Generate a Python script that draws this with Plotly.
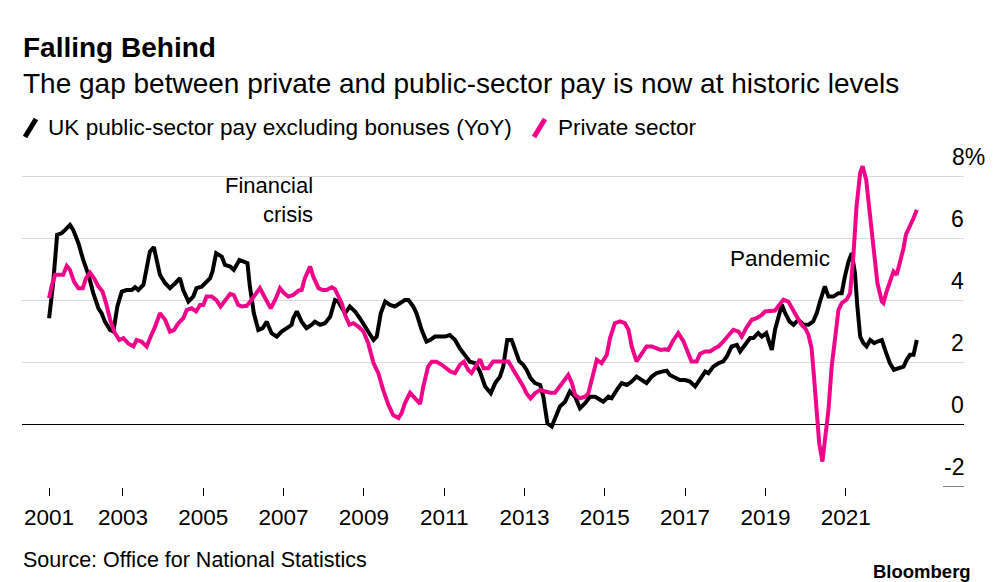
import plotly.graph_objects as go

# ---------------- data ----------------
public_year = [
    2001.16, 2001.26, 2001.36, 2001.47, 2001.56, 2001.68, 2001.76, 2001.89, 2002.01, 2002.14,
    2002.26, 2002.39, 2002.47, 2002.55, 2002.68, 2002.76, 2002.86, 2002.97, 2003.09, 2003.22,
    2003.30, 2003.38, 2003.51, 2003.59, 2003.67, 2003.77, 2003.84, 2003.92, 2004.05, 2004.17,
    2004.30, 2004.42, 2004.50, 2004.63, 2004.75, 2004.83, 2004.96, 2005.04, 2005.17, 2005.23,
    2005.32, 2005.46, 2005.54, 2005.67, 2005.76, 2005.90, 2006.00, 2006.10, 2006.16, 2006.26,
    2006.37, 2006.48, 2006.58, 2006.70, 2006.83, 2006.95, 2007.08, 2007.20, 2007.24, 2007.33,
    2007.45, 2007.57, 2007.70, 2007.78, 2007.91, 2008.03, 2008.16, 2008.28, 2008.36, 2008.45,
    2008.53, 2008.65, 2008.78, 2008.90, 2009.03, 2009.15, 2009.24, 2009.32, 2009.42, 2009.53,
    2009.65, 2009.77, 2009.90, 2010.02, 2010.11, 2010.23, 2010.31, 2010.44, 2010.56, 2010.65,
    2010.77, 2010.90, 2011.02, 2011.14, 2011.27, 2011.39, 2011.52, 2011.64, 2011.77, 2011.89,
    2012.02, 2012.16, 2012.27, 2012.39, 2012.47, 2012.57, 2012.68, 2012.76, 2012.87, 2012.97,
    2013.05, 2013.15, 2013.26, 2013.39, 2013.47, 2013.57, 2013.68, 2013.78, 2013.88, 2014.01,
    2014.13, 2014.26, 2014.38, 2014.51, 2014.63, 2014.76, 2014.88, 2014.96, 2015.09, 2015.17,
    2015.30, 2015.42, 2015.55, 2015.67, 2015.79, 2015.92, 2016.04, 2016.17, 2016.29, 2016.42,
    2016.54, 2016.62, 2016.75, 2016.87, 2017.00, 2017.12, 2017.25, 2017.37, 2017.50, 2017.58,
    2017.70, 2017.83, 2017.95, 2018.04, 2018.16, 2018.29, 2018.37, 2018.49, 2018.62, 2018.70,
    2018.82, 2018.91, 2019.02, 2019.09, 2019.16, 2019.24, 2019.32, 2019.41, 2019.49, 2019.60,
    2019.70, 2019.82, 2019.95, 2020.07, 2020.19, 2020.28, 2020.36, 2020.48, 2020.57, 2020.69,
    2020.82, 2020.90, 2020.98, 2021.07, 2021.15, 2021.23, 2021.29, 2021.36, 2021.44, 2021.52,
    2021.61, 2021.71, 2021.79, 2021.90, 2021.98, 2022.10, 2022.20, 2022.31, 2022.44, 2022.52,
    2022.60, 2022.69, 2022.77,
]
public_yoy = [
    3.44, 4.57, 6.13, 6.18, 6.29, 6.45, 6.29, 5.86, 5.32, 4.84,
    4.25, 3.76, 3.60, 3.33, 3.06, 3.01, 3.82, 4.30, 4.35, 4.35,
    4.44, 4.35, 4.52, 5.11, 5.59, 5.73, 5.32, 4.84, 4.57, 4.41,
    4.57, 4.73, 4.35, 3.98, 4.14, 4.41, 4.46, 4.57, 4.73, 4.95,
    5.54, 5.43, 5.16, 5.11, 5.00, 5.32, 5.27, 5.22, 4.46, 3.60,
    3.06, 3.12, 3.33, 2.96, 2.85, 3.01, 3.12, 3.23, 3.44, 3.66,
    3.33, 3.12, 3.23, 3.33, 3.23, 3.28, 3.49, 4.03, 3.98, 3.76,
    3.60, 3.82, 3.66, 3.44, 3.17, 2.90, 2.74, 2.85, 3.60, 3.98,
    3.87, 3.82, 3.92, 4.03, 4.03, 3.82, 3.60, 3.06, 2.69, 2.74,
    2.85, 2.85, 2.85, 2.90, 2.74, 2.47, 2.26, 2.04, 1.99, 1.72,
    1.24, 1.02, 1.35, 1.56, 1.88, 2.74, 2.74, 2.42, 2.05, 1.94,
    1.78, 1.51, 1.35, 1.29, 0.91, 0.05, -0.05, 0.27, 0.59, 0.75,
    1.08, 0.91, 0.54, 0.70, 0.91, 0.91, 0.81, 0.75, 0.91, 0.86,
    1.13, 1.35, 1.29, 1.40, 1.56, 1.45, 1.35, 1.56, 1.67, 1.72,
    1.75, 1.61, 1.51, 1.45, 1.45, 1.40, 1.24, 1.45, 1.72, 1.67,
    1.88, 1.99, 2.05, 2.21, 2.53, 2.58, 2.37, 2.58, 2.80, 2.80,
    2.96, 2.85, 2.96, 2.69, 2.42, 3.07, 3.50, 3.88, 3.61, 3.34,
    3.23, 3.39, 3.23, 3.23, 3.34, 3.61, 3.98, 4.47, 4.14, 4.14,
    4.25, 4.25, 4.79, 5.27, 5.54, 4.90, 3.82, 2.85, 2.64, 2.53,
    2.74, 2.64, 2.69, 2.74, 2.42, 1.99, 1.78, 1.83, 1.88, 2.10,
    2.26, 2.26, 2.74,
]

private_year = [
    2001.16, 2001.22, 2001.31, 2001.43, 2001.51, 2001.60, 2001.68, 2001.78, 2001.89, 2002.00,
    2002.08, 2002.18, 2002.28, 2002.39, 2002.49, 2002.58, 2002.68, 2002.80, 2002.91, 2003.01,
    2003.13, 2003.26, 2003.34, 2003.46, 2003.59, 2003.69, 2003.80, 2003.92, 2004.05, 2004.17,
    2004.27, 2004.38, 2004.50, 2004.59, 2004.71, 2004.82, 2004.92, 2005.00, 2005.08, 2005.21,
    2005.32, 2005.43, 2005.54, 2005.67, 2005.76, 2005.87, 2005.96, 2006.08, 2006.20, 2006.33,
    2006.41, 2006.50, 2006.60, 2006.68, 2006.79, 2006.91, 2007.01, 2007.12, 2007.24, 2007.37,
    2007.45, 2007.53, 2007.66, 2007.74, 2007.87, 2007.97, 2008.07, 2008.20, 2008.28, 2008.36,
    2008.45, 2008.53, 2008.64, 2008.74, 2008.86, 2008.99, 2009.11, 2009.24, 2009.36, 2009.48,
    2009.61, 2009.73, 2009.86, 2009.94, 2010.02, 2010.15, 2010.27, 2010.40, 2010.48, 2010.60,
    2010.69, 2010.81, 2010.94, 2011.06, 2011.16, 2011.27, 2011.39, 2011.49, 2011.60, 2011.68,
    2011.77, 2011.89, 2011.98, 2012.10, 2012.22, 2012.35, 2012.47, 2012.60, 2012.72, 2012.85,
    2012.97, 2013.05, 2013.15, 2013.26, 2013.39, 2013.51, 2013.64, 2013.76, 2013.88, 2013.98,
    2014.09, 2014.18, 2014.26, 2014.38, 2014.51, 2014.59, 2014.67, 2014.80, 2014.92, 2015.05,
    2015.13, 2015.25, 2015.38, 2015.50, 2015.59, 2015.67, 2015.79, 2015.92, 2016.04, 2016.17,
    2016.29, 2016.39, 2016.50, 2016.58, 2016.71, 2016.83, 2016.96, 2017.06, 2017.16, 2017.29,
    2017.37, 2017.50, 2017.62, 2017.75, 2017.83, 2017.95, 2018.08, 2018.20, 2018.33, 2018.41,
    2018.52, 2018.66, 2018.78, 2018.91, 2018.99, 2019.12, 2019.24, 2019.35, 2019.45, 2019.57,
    2019.65, 2019.78, 2019.90, 2019.99, 2020.07, 2020.15, 2020.21, 2020.28, 2020.34, 2020.42,
    2020.48, 2020.57, 2020.65, 2020.73, 2020.82, 2020.90, 2021.02, 2021.11, 2021.19, 2021.27,
    2021.36, 2021.42, 2021.51, 2021.59, 2021.69, 2021.79, 2021.90, 2021.94, 2022.02, 2022.10,
    2022.19, 2022.27, 2022.35, 2022.44, 2022.50, 2022.60, 2022.69, 2022.77,
]
private_yoy = [
    4.09, 4.46, 4.84, 4.84, 4.84, 5.13, 5.00, 4.62, 4.41, 4.41,
    4.73, 4.91, 4.73, 4.46, 4.30, 3.92, 3.39, 2.96, 2.74, 2.80,
    2.63, 2.53, 2.74, 2.69, 2.53, 2.85, 3.17, 3.60, 3.39, 3.01,
    3.06, 3.28, 3.44, 3.71, 3.76, 3.66, 3.87, 3.87, 4.14, 4.14,
    4.03, 3.82, 4.03, 4.23, 4.19, 3.87, 3.82, 3.84, 4.03, 4.25,
    4.41, 4.19, 3.92, 3.76, 4.03, 4.41, 4.25, 4.14, 4.19, 4.33,
    4.35, 4.73, 5.11, 4.78, 4.41, 4.35, 4.35, 4.44, 4.38, 4.19,
    3.92, 3.55, 3.23, 3.28, 3.17, 3.01, 2.63, 1.99, 1.67, 1.13,
    0.65, 0.32, 0.22, 0.38, 0.70, 1.04, 0.86, 0.68, 1.24, 1.88,
    2.04, 2.04, 1.94, 1.83, 1.72, 1.67, 1.94, 2.04, 1.77, 1.67,
    1.88, 2.12, 1.83, 1.83, 2.05, 2.05, 2.05, 2.05, 1.78, 1.51,
    1.24, 1.02, 0.86, 1.02, 1.13, 1.08, 1.04, 1.04, 1.24, 1.45,
    1.61, 1.35, 0.97, 0.86, 0.91, 1.02, 1.45, 2.10, 1.99, 2.26,
    2.80, 3.28, 3.34, 3.28, 3.07, 2.53, 2.05, 2.31, 2.53, 2.53,
    2.48, 2.42, 2.44, 2.42, 2.74, 2.96, 2.69, 2.37, 2.05, 2.05,
    2.29, 2.37, 2.37, 2.48, 2.53, 2.69, 2.91, 3.07, 3.01, 2.85,
    3.12, 3.39, 3.44, 3.55, 3.66, 3.66, 3.69, 3.88, 4.04, 3.98,
    3.77, 3.50, 3.23, 3.12, 2.91, 2.48, 1.56, 0.27, -0.59, -1.18,
    -0.59, 0.48, 1.88, 2.85, 3.71, 3.93, 4.04, 4.25, 5.44, 7.05,
    8.13, 8.34, 7.91, 6.94, 5.65, 4.57, 3.98, 3.93, 4.31, 4.63,
    4.95, 4.84, 5.22, 5.70, 6.14, 6.40, 6.67, 6.94,
]

x_tick_vals = [2001.16, 2003, 2005, 2007, 2009, 2011, 2013, 2015, 2017, 2019, 2021]
x_tick_text = ["2001", "2003", "2005", "2007", "2009", "2011", "2013", "2015", "2017", "2019", "2021"]
y_label_vals = [-2, 0, 2, 4, 6, 8]
y_label_text = ["-2", "0", "2", "4", "6", "8%"]
y_grid_vals = [2, 4, 6, 8]

series_names = ["UK public-sector pay excluding bonuses (YoY)", "Private sector"]
series_colors = ["#000000", "#f0058a"]

# ---------------- layout helpers ----------------
W, H = 993, 582
L, R, T, B = 22, 29, 152, 95
PW = W - L - R
PH = H - T - B
FONT = "Liberation Sans, Arial, Helvetica, sans-serif"


def px(x):
    return (x - L) / PW


def py(y):
    return (H - B - y) / PH


fig = go.Figure()
fig.add_trace(go.Scatter(x=public_year, y=public_yoy, mode="lines",
                         line=dict(color=series_colors[0], width=4),
                         name=series_names[0], showlegend=False))
fig.add_trace(go.Scatter(x=private_year, y=private_yoy, mode="lines",
                         line=dict(color=series_colors[1], width=4),
                         name=series_names[1], showlegend=False))

annotations = []
# y labels sit above their gridlines at the right edge
for v, t in zip(y_label_vals, y_label_text):
    shift = 21 if t.endswith("%") else 0
    annotations.append(dict(x=1, xref="paper", y=v, yref="y", text=t,
                            xanchor="right", yanchor="middle", showarrow=False,
                            xshift=2 + shift, yshift=20,
                            font=dict(family=FONT, size=23, color="#000")))

# titles
annotations.append(dict(x=px(21), y=py(48), xref="paper", yref="paper", text="<b>Falling Behind</b>",
                        xanchor="left", yanchor="middle", showarrow=False,
                        font=dict(family=FONT, size=28, color="#000")))
annotations.append(dict(x=px(21), y=py(83), xref="paper", yref="paper",
                        text="The gap between private and public-sector pay is now at historic levels",
                        xanchor="left", yanchor="middle", showarrow=False,
                        font=dict(family=FONT, size=28, color="#000")))
# legend
annotations.append(dict(x=px(46), y=py(128), xref="paper", yref="paper", text=series_names[0],
                        xanchor="left", yanchor="middle", showarrow=False,
                        font=dict(family=FONT, size=22.6, color="#000")))
annotations.append(dict(x=px(556), y=py(128), xref="paper", yref="paper", text=series_names[1],
                        xanchor="left", yanchor="middle", showarrow=False,
                        font=dict(family=FONT, size=22.6, color="#000")))
# event notes
annotations.append(dict(x=px(315), y=py(200), xref="paper", yref="paper", text="Financial<br>crisis",
                        xanchor="right", yanchor="middle", align="right", showarrow=False,
                        font=dict(family=FONT, size=22, color="#000")))
annotations.append(dict(x=px(780), y=py(258), xref="paper", yref="paper", text="Pandemic",
                        xanchor="center", yanchor="middle", showarrow=False,
                        font=dict(family=FONT, size=22.5, color="#000")))
# footer
annotations.append(dict(x=px(21), y=py(560), xref="paper", yref="paper",
                        text="Source: Office for National Statistics",
                        xanchor="left", yanchor="middle", showarrow=False,
                        font=dict(family=FONT, size=21.5, color="#000")))
annotations.append(dict(x=px(973), y=py(571), xref="paper", yref="paper", text="<b>Bloomberg</b>",
                        xanchor="right", yanchor="middle", showarrow=False,
                        font=dict(family=FONT, size=18.5, color="#000")))

shapes = [
    # legend slashes
    dict(type="line", xref="paper", yref="paper", x0=px(25), y0=py(137), x1=px(36), y1=py(119),
         line=dict(color=series_colors[0], width=5)),
    dict(type="line", xref="paper", yref="paper", x0=px(534), y0=py(137), x1=px(545), y1=py(119),
         line=dict(color=series_colors[1], width=5)),
    # short dash at the -2 level, beside its label
    dict(type="line", xref="paper", yref="y", x0=px(943), x1=1.0, y0=-2, y1=-2,
         line=dict(color="#000", width=1)),
]

fig.update_layout(
    width=W, height=H,
    margin=dict(l=L, r=R, t=T, b=B),
    paper_bgcolor="white", plot_bgcolor="white",
    font=dict(family=FONT, color="#000"),
    showlegend=False,
    hovermode=False,
    annotations=annotations,
    shapes=shapes,
    xaxis=dict(range=[2000.485, 2023.946], tickvals=x_tick_vals, ticktext=x_tick_text,
               ticks="outside", ticklen=8, tickwidth=1, tickcolor="#000",
               ticklabelstandoff=2,
               showgrid=False, zeroline=False, showline=False,
               tickfont=dict(family=FONT, size=22.5, color="#000")),
    yaxis=dict(range=[-2, 8.8], tickvals=y_grid_vals, showticklabels=False,
               showgrid=True, gridcolor="#d9d9d9", gridwidth=1,
               zeroline=True, zerolinecolor="#000", zerolinewidth=1,
               showline=False, ticks=""),
)

fig.write_html("out.html", config={"displayModeBar": False, "staticPlot": True},
               post_script="document.body.style.margin='0';")
